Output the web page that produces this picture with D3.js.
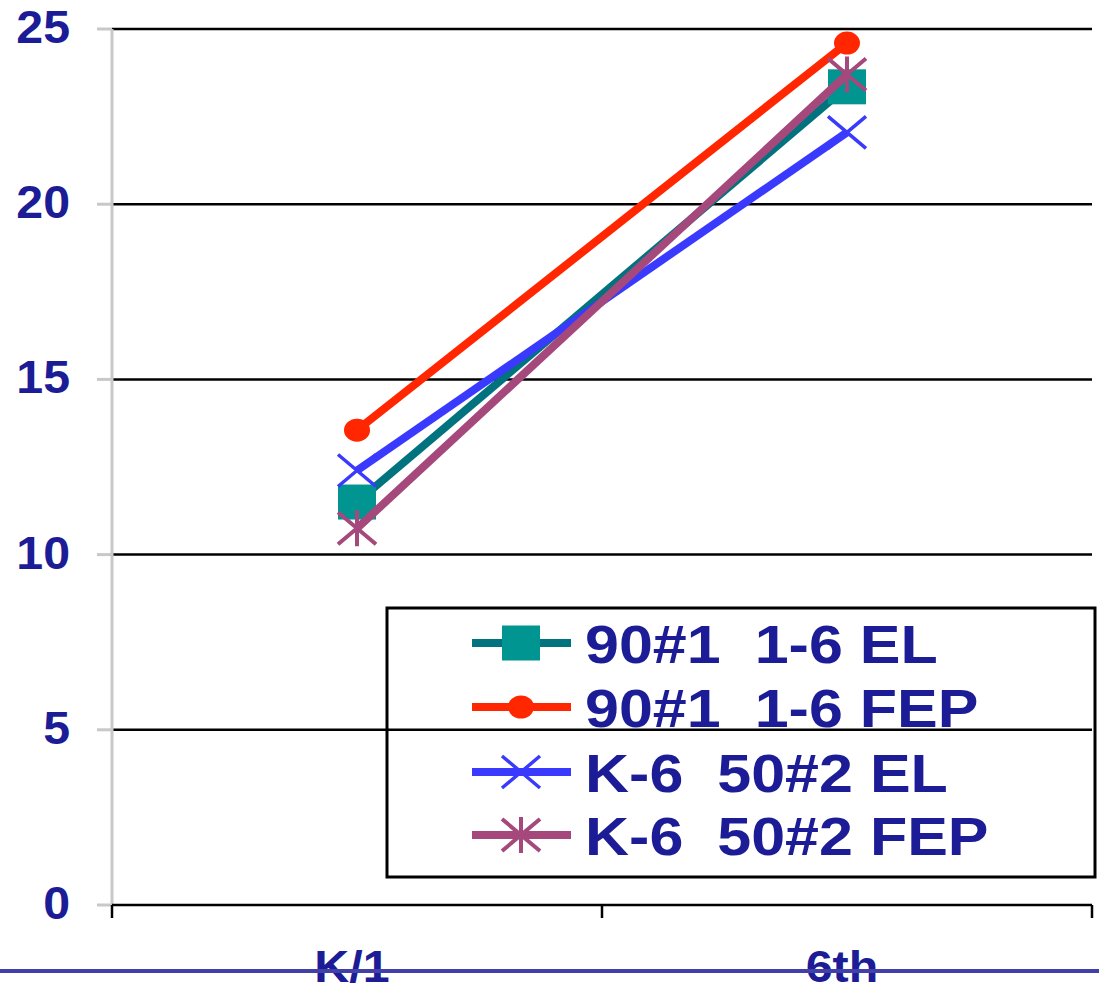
<!DOCTYPE html>
<html>
<head>
<meta charset="utf-8">
<script src="https://cdn.jsdelivr.net/npm/d3@7"></script>
<style>
  html, body { margin: 0; padding: 0; background: #fff; }
  svg { display: block; }
  text { font-family: "Liberation Sans", Arial, sans-serif; font-weight: bold; fill: #1c1c96; }
</style>
</head>
<body>
<div id="chart"></div>
<script>
// categories and series
const grades   = ['K/1', '6th'];
const seriesNames = ['90#1  1-6 EL', '90#1  1-6 FEP', 'K-6  50#2 EL', 'K-6  50#2 FEP'];
const elScores90   = [11.5, 23.35];
const fepScores90  = [13.55, 24.6];
const elScores50   = [12.4, 22.05];
const fepScores50  = [10.75, 23.7];
const yTicks = [0, 5, 10, 15, 20, 25];

const W = 1099, H = 983;
const plot = { left: 112, right: 1092, top: 29, bottom: 905 };

const svg = d3.select('#chart').append('svg')
  .attr('width', W).attr('height', H);

const x = d3.scaleBand().domain(grades).range([plot.left, plot.right]);
const y = d3.scaleLinear().domain([0, 25]).range([plot.bottom, plot.top]);
const cx = d => x(d) + x.bandwidth() / 2;

// ── Grid ──────────────────────────────────────────────────────────────
svg.append('g').selectAll('line')
  .data(yTicks.filter(v => v > 0))
  .join('line')
  .attr('x1', plot.left).attr('x2', plot.right)
  .attr('y1', d => y(d)).attr('y2', d => y(d))
  .attr('stroke', '#000').attr('stroke-width', 2.5);

// y axis (grey) with little stubs
svg.append('line')
  .attr('x1', plot.left).attr('x2', plot.left)
  .attr('y1', y(25)).attr('y2', y(0))
  .attr('stroke', '#c8c8c8').attr('stroke-width', 3);
svg.append('g').selectAll('line')
  .data(yTicks)
  .join('line')
  .attr('x1', plot.left - 15).attr('x2', plot.left)
  .attr('y1', d => y(d)).attr('y2', d => y(d))
  .attr('stroke', '#c8c8c8').attr('stroke-width', 3);

svg.append('g').selectAll('text')
  .data(yTicks)
  .join('text')
  .attr('transform', d => `translate(70,${y(d) - 2}) scale(1.05,1)`)
  .attr('text-anchor', 'end')
  .attr('dominant-baseline', 'central')
  .style('font-size', '46px')
  .text(d => d);

// x axis
const xAxis = svg.append('g');
xAxis.append('line')
  .attr('x1', plot.left).attr('x2', plot.right)
  .attr('y1', y(0)).attr('y2', y(0))
  .attr('stroke', '#000').attr('stroke-width', 2.5);
xAxis.selectAll('line.tick')
  .data([plot.left, x(grades[1]), plot.right])
  .join('line')
  .attr('class', 'tick')
  .attr('x1', d => d).attr('x2', d => d)
  .attr('y1', y(0)).attr('y2', y(0) + 13)
  .attr('stroke', '#000').attr('stroke-width', 2.5);
xAxis.selectAll('text')
  .data(grades)
  .join('text')
  .attr('transform', d => `translate(${cx(d) - 5},982) scale(1.1,1)`)
  .attr('text-anchor', 'middle')
  .style('font-size', '44px')
  .text(d => d);

// rule under the chart
svg.append('line')
  .attr('x1', 0).attr('x2', W)
  .attr('y1', 971).attr('y2', 971)
  .attr('stroke', '#4040a8').attr('stroke-width', 4);

// ── Series ────────────────────────────────────────────────────────────
const series = [
  { name: seriesNames[0], values: elScores90,  line: '#00737f', mark: '#009590', shape: 'square' },
  { name: seriesNames[1], values: fepScores90, line: '#ff2600', mark: '#ff2600', shape: 'circle' },
  { name: seriesNames[2], values: elScores50,  line: '#3a3aff', mark: '#3a3aff', shape: 'x' },
  { name: seriesNames[3], values: fepScores50, line: '#a5487c', mark: '#a5487c', shape: 'star' },
];

function drawMarker(g, s, px, py) {
  if (s.shape === 'square') {
    g.append('rect')
      .attr('x', px - 19).attr('y', py - 17.5)
      .attr('width', 38).attr('height', 35)
      .attr('fill', s.mark);
  } else if (s.shape === 'circle') {
    g.append('ellipse')
      .attr('cx', px).attr('cy', py)
      .attr('rx', 13).attr('ry', 11.5)
      .attr('fill', s.mark);
  } else {
    const hw = 19, hh = 16;
    const p = d3.path();
    p.moveTo(px - hw, py - hh); p.lineTo(px + hw, py + hh);
    p.moveTo(px - hw, py + hh); p.lineTo(px + hw, py - hh);
    if (s.shape === 'star') { p.moveTo(px, py - hh - 2); p.lineTo(px, py + hh + 2); }
    g.append('path')
      .attr('d', p.toString())
      .attr('fill', 'none')
      .attr('stroke', s.mark)
      .attr('stroke-width', s.shape === 'star' ? 4 : 3.5);
  }
}

const line = d3.line().x((d, i) => cx(grades[i])).y(d => y(d));

series.forEach(s => {
  const g = svg.append('g');
  g.append('path')
    .attr('d', line(s.values))
    .attr('fill', 'none')
    .attr('stroke', s.line)
    .attr('stroke-width', 8);
  s.values.forEach((v, i) => drawMarker(g, s, cx(grades[i]), y(v)));
});

// ── Legend ────────────────────────────────────────────────────────────
const legend = svg.append('g');
legend.append('rect')
  .attr('x', 387).attr('y', 608)
  .attr('width', 708).attr('height', 269)
  .attr('fill', 'none')
  .attr('stroke', '#000').attr('stroke-width', 3);

const rowY = [643, 707, 772, 835];
series.forEach((s, i) => {
  const g = legend.append('g');
  g.append('line')
    .attr('x1', 472).attr('x2', 571)
    .attr('y1', rowY[i]).attr('y2', rowY[i])
    .attr('stroke', s.line).attr('stroke-width', 8);
  drawMarker(g, s, 521, rowY[i]);
  g.append('text')
    .attr('transform', `translate(585,${rowY[i] + 1}) scale(1.13,1)`)
    .attr('dominant-baseline', 'central')
    .style('font-size', '54px')
    .style('white-space', 'pre')
    .attr('xml:space', 'preserve')
    .text(s.name);
});
</script>
</body>
</html>
